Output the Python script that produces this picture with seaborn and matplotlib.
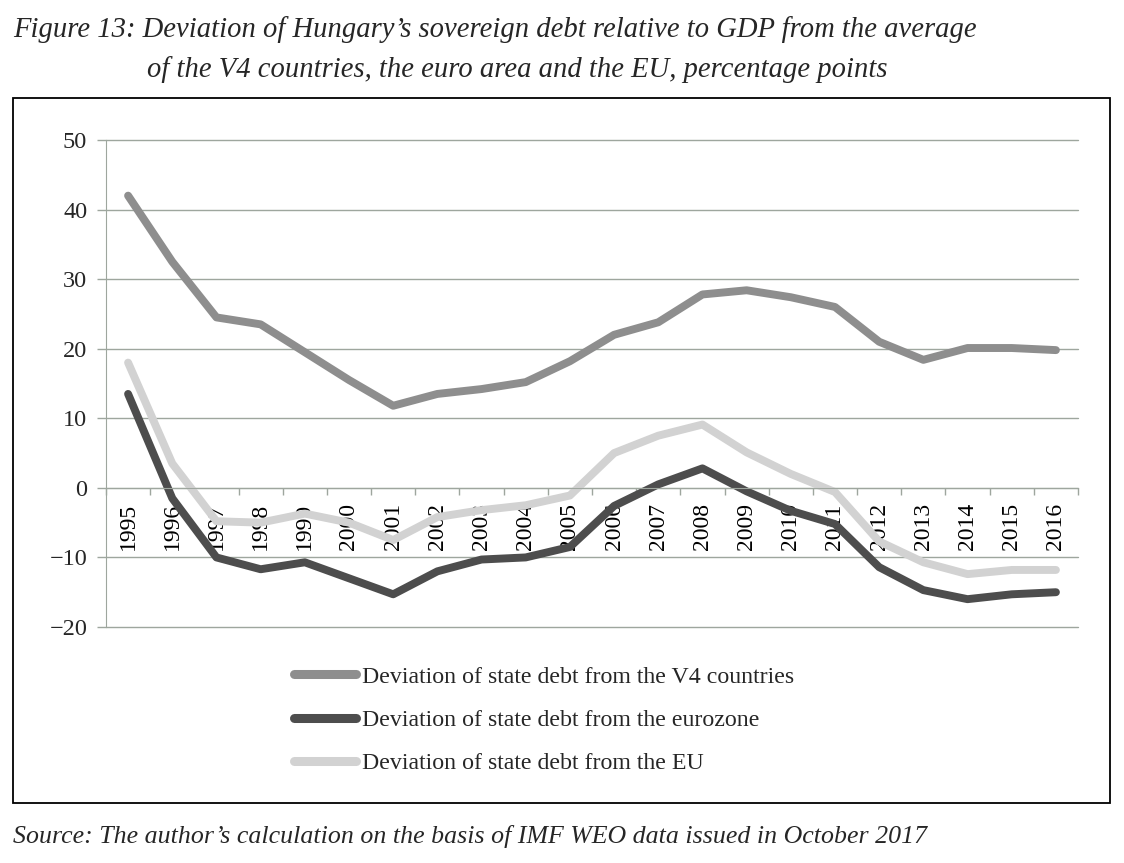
import numpy as np
import pandas as pd
import seaborn as sns
import matplotlib.pyplot as plt
from matplotlib.patches import Rectangle
from matplotlib.ticker import MultipleLocator

years = list(range(1995, 2017))
v4 = [42.0, 32.5, 24.5, 23.5, 19.5, 15.5, 11.8, 13.5, 14.2, 15.2, 18.2,
      22.0, 23.8, 27.8, 28.4, 27.4, 26.0, 21.0, 18.4, 20.1, 20.1, 19.8]
eurozone = [13.5, -1.5, -10.0, -11.7, -10.7, -13.0, -15.3, -12.0, -10.3, -10.0, -8.5,
            -2.6, 0.5, 2.8, -0.5, -3.3, -5.2, -11.4, -14.7, -16.0, -15.3, -15.0]
eu = [18.0, 3.5, -4.8, -5.0, -3.7, -5.0, -7.5, -4.2, -3.2, -2.5, -1.1,
      5.0, 7.5, 9.1, 5.1, 2.0, -0.6, -7.7, -10.7, -12.4, -11.8, -11.8]
labels = ["Deviation of state debt from the V4 countries",
          "Deviation of state debt from the eurozone",
          "Deviation of state debt from the EU"]
colors = ["#8e8e8e", "#4d4d4d", "#d2d2d2"]

df = pd.DataFrame({"year": years, labels[0]: v4, labels[1]: eurozone, labels[2]: eu})
long = df.melt(id_vars="year", var_name="series", value_name="value")

sns.set_style("white")
plt.rcParams["font.family"] = ["Liberation Serif", "DejaVu Serif"]

fig = plt.figure(figsize=(11.24, 8.63), dpi=100)
ax = fig.add_axes([106/1124, 1-627/863, (1078-106)/1124, (627-140)/863])

sns.lineplot(data=long, x="year", y="value", hue="series", hue_order=labels,
             palette=colors, linewidth=5.7, ax=ax, legend=False,
             solid_capstyle="round", solid_joinstyle="round")

grid_c = "#9ea69e"
# move the x axis up to zero first (this resets the ticks)
ax.spines["bottom"].set_position(("data", 0))
ax.spines["bottom"].set_color(grid_c)
ax.spines["left"].set_color(grid_c)
ax.spines["top"].set_visible(False)
ax.spines["right"].set_visible(False)

ax.set_xlim(1994.5, 2016.5)
ax.set_ylim(-20, 50)
ax.yaxis.set_major_locator(MultipleLocator(10))
ax.set_xticks(years)
ax.set_xticklabels([str(y) for y in years])
ax.set_xticks([y + 0.5 for y in years[:-1]] + [1994.5, 2016.5], minor=True)
ax.tick_params(axis="x", which="major", bottom=True, length=0, pad=11, labelsize=17,
               labelrotation=90, colors="black")
ax.tick_params(axis="x", which="minor", bottom=True, length=5, width=1,
               color=grid_c, direction="out")
ax.tick_params(axis="y", left=True, length=6.5, width=1, color=grid_c,
               labelsize=17.5, pad=7, direction="out")
ax.grid(axis="y", color=grid_c, linewidth=1)
for gl in ax.get_ygridlines():
    gl.set_clip_on(False)
ax.set_axisbelow(True)
ax.set_xlabel("")
ax.set_ylabel("")

handles = [plt.Line2D([], [], color=c, linewidth=6.5, solid_capstyle="round") for c in colors]
fig.legend(handles, labels, loc="upper left", bbox_to_anchor=(294/1124, 1-666/863),
           frameon=False, fontsize=17.2, handlelength=2.6, handletextpad=0.25,
           labelspacing=0.9, borderpad=0, borderaxespad=0)

fig.patches.append(Rectangle((13/1124, 1-803/863), (1110-13)/1124, (803-98)/863,
                             transform=fig.transFigure, fill=False,
                             edgecolor="black", linewidth=1.3))

fig.text(13/1124, 1-30/863,
         "Figure 13: Deviation of Hungary’s sovereign debt relative to GDP from the average",
         ha="left", va="center", fontsize=20.6, style="italic")
fig.text(147/1124, 1-70/863,
         "of the V4 countries, the euro area and the EU, percentage points",
         ha="left", va="center", fontsize=20.6, style="italic")
fig.text(13/1124, 1-836/863,
         "Source: The author’s calculation on the basis of IMF WEO data issued in October 2017",
         ha="left", va="center", fontsize=18.6, style="italic")

fig.savefig("out.png", dpi=100)
